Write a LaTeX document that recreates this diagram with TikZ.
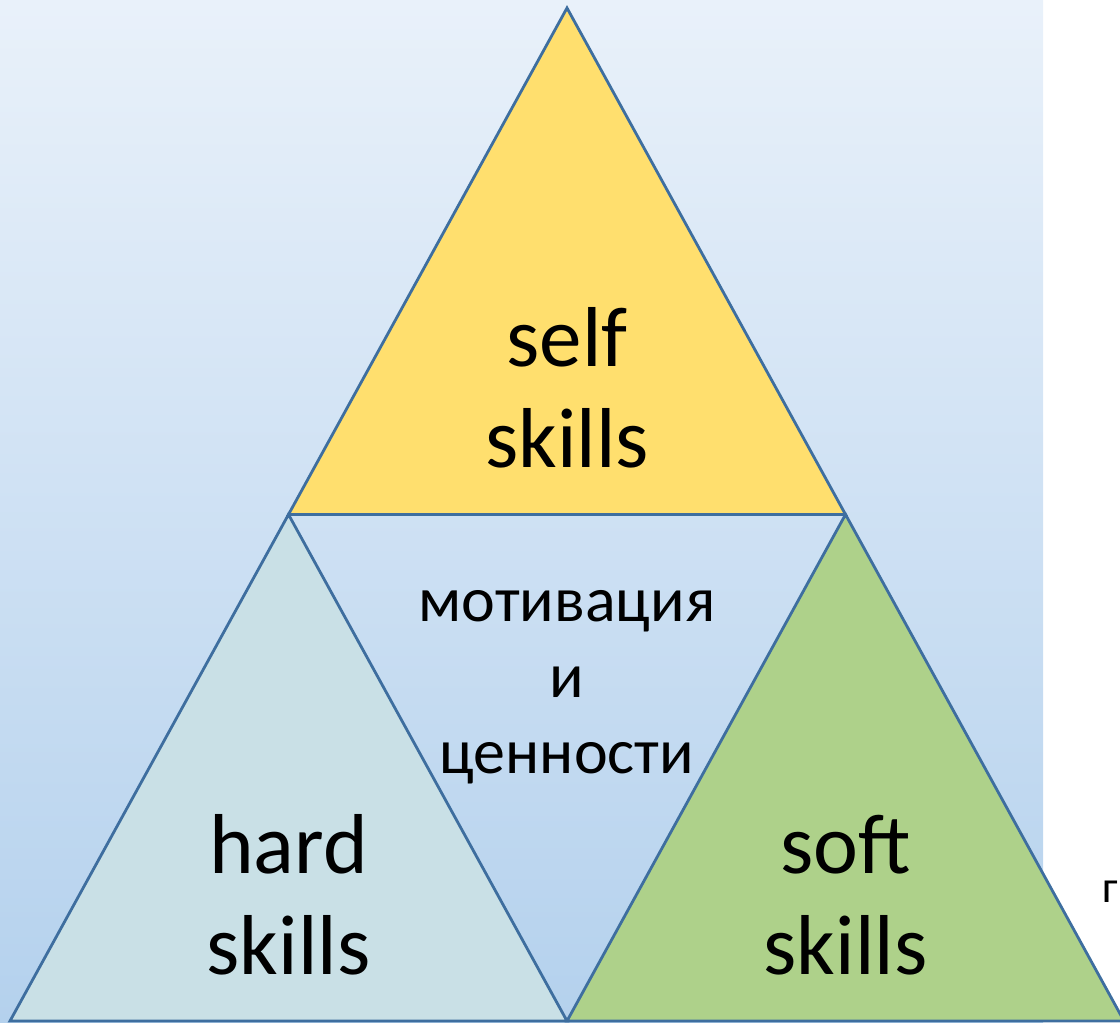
\documentclass[tikz,border=0pt]{standalone}
\usepackage{fontspec}
\setmainfont{Carlito}
\usepackage{xcolor}
\definecolor{colorSelf}{HTML}{FFDF6E}
\definecolor{colorHard}{HTML}{C9E0E6}
\definecolor{colorSoft}{HTML}{AED18A}
\definecolor{colorEdge}{HTML}{3E6E9F}
\definecolor{colorBgTop}{HTML}{E9F1FA}
\definecolor{colorBgBottom}{HTML}{B4D1ED}
\usepackage{tikz}
\tikzset{
  skillPart/.style={draw=colorEdge, line width=0.028cm, line join=miter},
  bigText/.style={align=center, font=\fontsize{24.2}{28.8}\selectfont},
  midText/.style={align=center, font=\fontsize{18.2}{21.6}\selectfont}
}

\begin{document}
\begin{tikzpicture}
\useasboundingbox (0,0) rectangle (11.2,10.23);
\shade[top color=colorBgTop, bottom color=colorBgBottom] (0,0) rectangle (10.43,10.23);
\coordinate (apex) at (5.67,10.15);
\coordinate (botL) at (0.10,0.02);
\coordinate (botR) at (11.24,0.02);
\coordinate (midL) at (2.885,5.085);
\coordinate (midR) at (8.455,5.085);
\coordinate (midB) at (5.67,0.02);
\filldraw[skillPart, fill=colorSelf] (apex) -- (midL) -- (midR) -- cycle;
\filldraw[skillPart, fill=colorHard] (midL) -- (botL) -- (midB) -- cycle;
\filldraw[skillPart, fill=colorSoft] (midR) -- (midB) -- (botR) -- cycle;
\node[bigText] (self) at (5.67,6.35) {self\\skills};
\node[bigText] (hard) at (2.885,1.28) {hard\\skills};
\node[bigText] (soft) at (8.455,1.28) {soft\\skills};
\node[midText] (motiv) at (5.67,3.36) {мотивация\\и\\ценности};
\node[anchor=base west, inner sep=0pt, font=\fontsize{12.8}{15}\selectfont] (cut) at (11.02,1.20) {г};
\end{tikzpicture}
\end{document}
